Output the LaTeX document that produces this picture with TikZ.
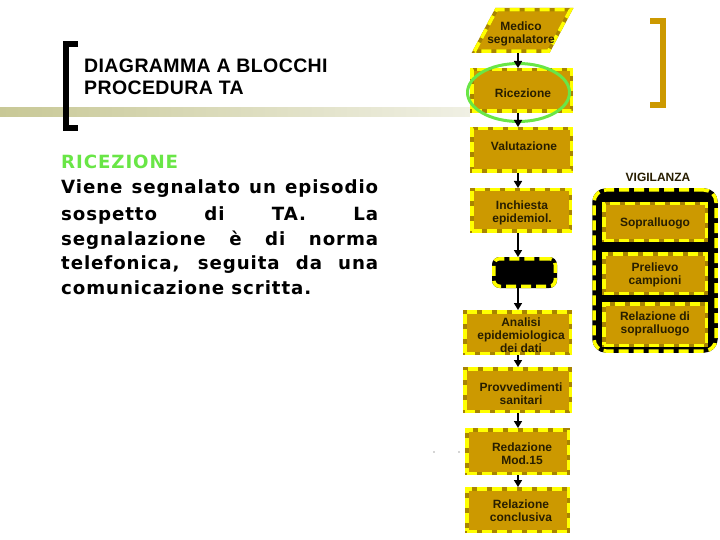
\documentclass[tikz,border=0pt]{standalone}
\usepackage{fontspec}
\setmainfont{Liberation Sans}
\newfontfamily\verdfont[LetterSpace=5]{DejaVu Sans}
\newfontfamily\titlefont[LetterSpace=2]{Liberation Sans}
\usetikzlibrary{shapes.geometric,arrows.meta}
\definecolor{gold}{RGB}{204,153,0}
\definecolor{goldedge}{RGB}{168,132,0}
\definecolor{dashy}{RGB}{255,255,0}
\definecolor{boxtxt}{RGB}{40,30,0}
\definecolor{lgreen}{RGB}{105,230,70}
\definecolor{lineL}{RGB}{200,200,150}
\definecolor{lineR}{RGB}{240,240,228}
\tikzset{
  yellowdash/.style={postaction={draw=dashy, line width=3.5pt, dash pattern=on 10pt off 5pt}},
  gbox/.style={fill=gold, draw=goldedge, line width=3.5pt, yellowdash, inner sep=0pt},
  btext/.style={text=boxtxt, font=\bfseries\fontsize{12}{13}\selectfont, align=center, inner sep=0pt},
  blkbox/.style={fill=black, draw=black, line width=3.5pt, rounded corners=6pt, yellowdash, inner sep=0pt},
  arr/.style={draw=black, line width=1.6pt, -{Triangle[length=7pt,width=8pt]}},
  bodyline/.style={anchor=base west, inner sep=0pt, font=\verdfont\bfseries\fontsize{18.2}{20}\selectfont, text=black},
  titleline/.style={anchor=base west, inner sep=0pt, font=\titlefont\bfseries\fontsize{19.5}{23}\selectfont}
}
\begin{document}
\begin{tikzpicture}[x=1pt,y=-1pt]
\useasboundingbox (0,0) rectangle (720,540);
\fill[white] (0,0) rectangle (720,540);
% gradient rule
\shade[left color=lineL, right color=lineR] (0,108) rectangle (470,117);
% left bracket
\draw[line width=6pt, black, line join=miter] (78,43.7) -- (66.3,43.7) -- (66.3,128) -- (78,128);
% right bracket
\draw[line width=6pt, gold, line join=miter] (650,21) -- (663,21) -- (663,105) -- (650,105);
% title
\node[titleline] (t1) at (84,72.5) {DIAGRAMMA A BLOCCHI};
\node[titleline] (t2) at (84,94.5) {PROCEDURA TA};
% body
\node[bodyline, text=lgreen] (b0) at (61,168.5) {RICEZIONE};
\node[bodyline] (b1) at (61,193.5) {\makebox[317pt][s]{Viene segnalato un episodio}};
\node[bodyline] (b2) at (61,221) {\makebox[317pt][s]{sospetto di TA. La}};
\node[bodyline] (b3) at (61,245.5) {\makebox[317pt][s]{segnalazione è di norma}};
\node[bodyline] (b4) at (61,269.5) {\makebox[317pt][s]{telefonica, seguita da una}};
\node[bodyline] (b5) at (61,294.5) {comunicazione scritta.};
% flow column boxes
\coordinate (ax) at (518,0);
\node[gbox, trapezium, trapezium left angle=67, trapezium right angle=113,
      trapezium stretches=true, inner sep=3pt, minimum width=96pt, minimum height=41.5pt] (medbox) at (522.5,30.5) {};
\node[gbox, minimum width=99.5pt, minimum height=41.5pt] (ric) at (521.5,90.5) {};
\node[gbox, minimum width=99.5pt, minimum height=42.5pt] (val) at (521.5,150) {};
\node[gbox, minimum width=98.5pt, minimum height=41.5pt] (inc) at (521,210.5) {};
\node[blkbox, minimum width=61.5pt, minimum height=27.5pt] (blk) at (524.5,272.5) {};
\node[gbox, minimum width=105.5pt, minimum height=41.5pt] (ana) at (517.5,332.5) {};
\node[gbox, minimum width=105.5pt, minimum height=42.5pt] (prov) at (517.5,390) {};
\node[gbox, minimum width=101.5pt, minimum height=43.5pt] (red) at (517.5,451.5) {};
\node[gbox, minimum width=101.5pt, minimum height=42.5pt] (rel) at (517.5,510) {};
% box texts
\node[btext] (medt) at (521,33.5) {Medico\\segnalatore};
\node[btext] (rict) at (523,93) {Ricezione};
\node[btext] (valt) at (524,146.5) {Valutazione};
\node[btext] (inct) at (522,212.5) {Inchiesta\\epidemiol.};
\node[btext] (anat) at (521,335) {Analisi\\epidemiologica\\dei dati};
\node[btext] (provt) at (521,393.5) {Provvedimenti\\sanitari};
\node[btext] (redt) at (522,453.5) {Redazione\\Mod.15};
\node[btext] (relt) at (521,511) {Relazione\\conclusiva};
% ellipse highlight
\draw[lgreen, line width=3pt] (518.5,92.5) ellipse [x radius=51pt, y radius=29pt];
% arrows
\draw[arr] (medbox.south -| ax) -- (ric.north -| ax);
\draw[arr] (ric.south -| ax) -- (val.north -| ax);
\draw[arr] (val.south -| ax) -- (inc.north -| ax);
\draw[arr] (inc.south -| ax) -- (blk.north -| ax);
\draw[arr] (blk.south -| ax) -- (ana.north -| ax);
\draw[arr] (ana.south -| ax) -- (prov.north -| ax);
\draw[arr] (prov.south -| ax) -- (red.north -| ax);
\draw[arr] (red.south -| ax) -- (rel.north -| ax);
% vigilanza
\node[btext] (vigt) at (658,177) {VIGILANZA};
\node[blkbox, rounded corners=12pt, minimum width=122pt, minimum height=161pt] (vig) at (655,270.5) {};
\node[gbox, minimum width=102.5pt, minimum height=36.5pt] (sop) at (655,222) {};
\node[gbox, minimum width=102.5pt, minimum height=39.5pt] (prel) at (655,273.5) {};
\node[gbox, minimum width=102.5pt, minimum height=41.5pt] (rsop) at (655,324.5) {};
\node[btext] (sopt) at (655,223) {Sopralluogo};
\node[btext] (prelt) at (655,275) {Prelievo\\campioni};
\node[btext] (rsopt) at (655,323.5) {Relazione di\\sopralluogo};
% tiny dots
\fill[black!70] (434,452) circle (0.6);
\fill[black!70] (459,452) circle (0.6);
\end{tikzpicture}
\end{document}
